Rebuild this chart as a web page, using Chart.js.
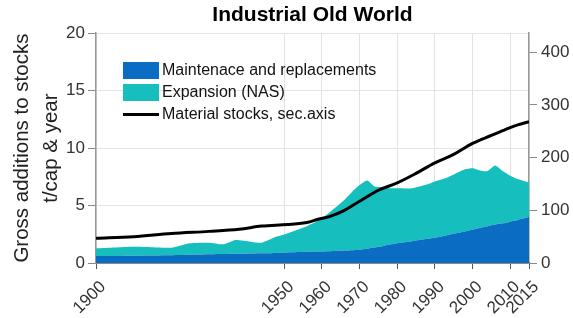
<!DOCTYPE html>
<html>
<head>
<meta charset="utf-8">
<script src="https://cdn.jsdelivr.net/npm/chart.js@4"></script>
<style>
html,body{margin:0;padding:0;background:#fff;}
canvas{display:block;}
</style>
</head>
<body>
<canvas id="c" width="573" height="318"></canvas>
<script>
// ---- data ----
const years = [1900,1905,1910,1915,1920,1925,1930,1934,1937,1941,1944,1948,1951,1956,1959,1962,1966,1969,1972,1974,1976,1978,1980,1984,1988,1990,1993,1995,1998,2000,2002,2004,2006,2008,2010,2012,2015];
const maintenance = [0.60,0.62,0.64,0.66,0.68,0.72,0.76,0.78,0.80,0.83,0.85,0.88,0.92,0.98,1.00,1.02,1.08,1.13,1.25,1.35,1.45,1.60,1.72,1.90,2.10,2.20,2.40,2.55,2.75,2.90,3.05,3.20,3.35,3.45,3.60,3.75,4.00];
const expansion = [0.68,0.73,0.78,0.72,0.65,1.00,1.01,0.85,1.20,1.03,0.92,1.42,1.68,2.22,2.70,3.38,4.42,5.37,5.93,5.30,5.15,4.90,4.78,4.60,4.75,4.90,5.00,5.15,5.40,5.35,5.00,4.80,5.13,4.55,4.00,3.55,3.00];
const stockYears = [1900,1910,1920,1930,1938,1944,1951,1956,1959,1962,1966,1970,1975,1980,1985,1990,1995,2000,2005,2008,2010,2012,2015];
const stocks = [47,50,56,60,64,70,73,77,83,88,100,117,138,152,170,190,206,227,242,251,257,262,268];
const xTicks = [1900,1950,1960,1970,1980,1990,2000,2010,2015];
const yTicks = [0,5,10,15,20];
const y2Ticks = [0,100,200,300,400];
const labels = ["Maintenace and replacements","Expansion (NAS)","Material stocks, sec.axis"];
const colors = ["#0b6cc3","#16bfbd","#000000"];

const FONT = "'Liberation Sans', Arial, sans-serif";
const pts = (xs, ys) => xs.map((x,i)=>({x:x,y:ys[i]}));

const legendPlugin = {
  id:'insideLegend',
  afterDatasetsDraw(chart){
    const ctx = chart.ctx;
    ctx.save();
    const x0 = 123, bw = 36;
    const rows = [70, 92, 114];
    ctx.font = "16px " + FONT;
    ctx.textBaseline = 'middle';
    ctx.fillStyle = colors[0]; ctx.fillRect(x0, 62, bw, 17);
    ctx.fillStyle = colors[1]; ctx.fillRect(x0, 84, bw, 17);
    ctx.strokeStyle = colors[2]; ctx.lineWidth = 3;
    ctx.beginPath(); ctx.moveTo(x0, 114.5); ctx.lineTo(x0+bw, 114.5); ctx.stroke();
    ctx.fillStyle = '#111';
    labels.forEach((t,i)=>ctx.fillText(t, 162, rows[i]+1));
    ctx.restore();
  }
};

new Chart(document.getElementById('c'), {
  type:'line',
  data:{
    datasets:[
      {label:labels[2], data:pts(stockYears, stocks), yAxisID:'y2', borderColor:colors[2], borderWidth:3, pointRadius:0, fill:false, tension:0.35, order:0},
      {label:labels[0], data:pts(years, maintenance), yAxisID:'y', borderWidth:0, borderColor:colors[0], backgroundColor:colors[0], pointRadius:0, fill:'origin', tension:0.2, order:1, stack:'a'},
      {label:labels[1], data:pts(years, expansion), yAxisID:'y', borderWidth:0, borderColor:colors[1], backgroundColor:colors[1], pointRadius:0, fill:'-1', tension:0.2, order:1, stack:'a'}
    ]
  },
  options:{
    responsive:false,
    animation:false,
    devicePixelRatio:1,
    layout:{padding:0},
    plugins:{
      legend:{display:false},
      tooltip:{enabled:false},
      title:{display:true, text:'Industrial Old World', fullSize:false, color:'#000',
        font:{family:FONT, size:21, weight:'bold', lineHeight:1.2}, padding:{top:3,bottom:5}}
    },
    scales:{
      x:{type:'linear', min:1900, max:2015,
        afterBuildTicks:s=>{s.ticks = xTicks.map(v=>({value:v}));},
        afterFit:s=>{s.height = 55;},
        ticks:{autoSkip:false, minRotation:45, maxRotation:45, color:'#333', padding:8, labelOffset:7,
          font:{family:FONT, size:17}, callback:v=>String(v)},
        grid:{color:'#e2e2e2', tickColor:'#555', tickLength:6},
        border:{color:'#333', width:1.5}
      },
      y:{type:'linear', min:0, max:20, stacked:true, position:'left',
        afterBuildTicks:s=>{s.ticks = yTicks.map(v=>({value:v}));},
        afterFit:s=>{s.width = 96;},
        ticks:{color:'#333', padding:3, font:{family:FONT, size:17}},
        grid:{color:'#e4e4e4', tickColor:'#888', tickLength:8},
        border:{color:'#999', width:1.5},
        title:{display:true, text:['Gross additions to stocks','t/cap & year'], color:'#222',
          font:{family:FONT, size:20.5, lineHeight:1.4}, padding:{top:8,bottom:0}}
      },
      y2:{type:'linear', min:0, max:436, position:'right', stacked:false,
        afterBuildTicks:s=>{s.ticks = y2Ticks.map(v=>({value:v}));},
        afterFit:s=>{s.width = 44;},
        ticks:{color:'#333', padding:4, font:{family:FONT, size:17}},
        grid:{drawOnChartArea:false, tickColor:'#888', tickLength:8},
        border:{color:'#999', width:1.5}
      }
    }
  },
  plugins:[legendPlugin]
});
</script>
</body>
</html>
